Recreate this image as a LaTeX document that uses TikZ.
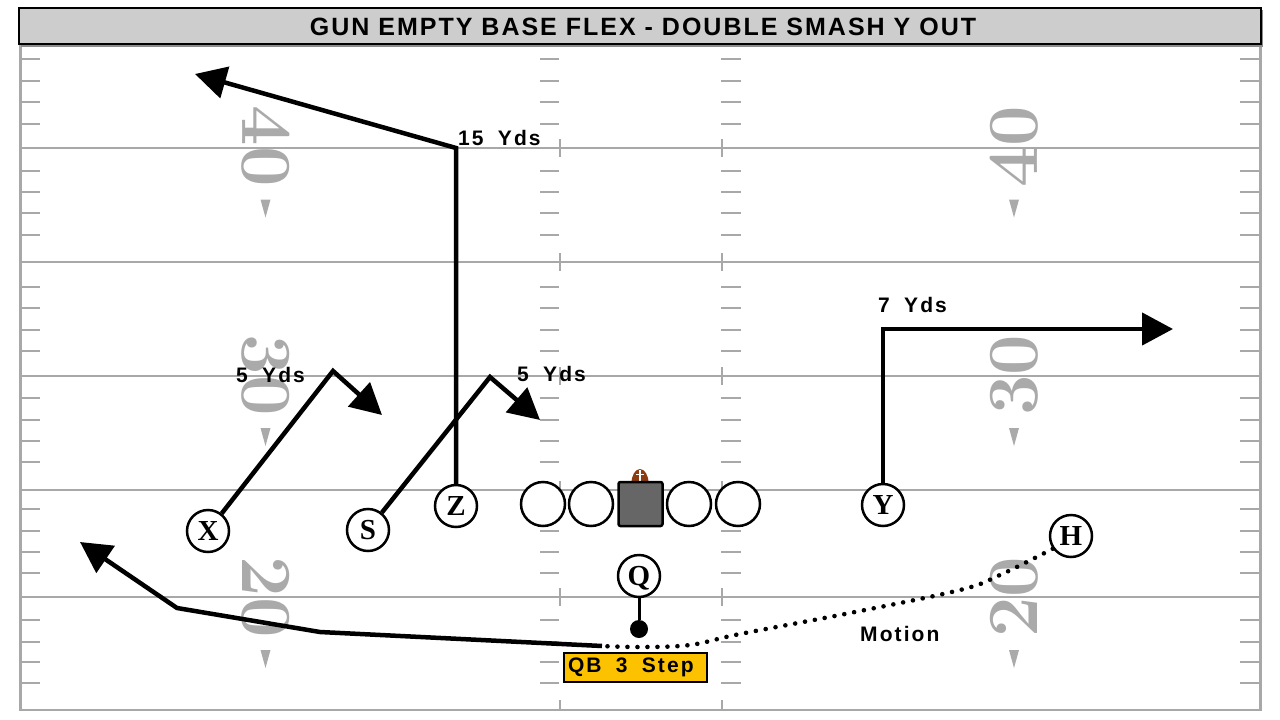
\documentclass[tikz,border=0pt]{standalone}
\usepackage{fontspec}
\usetikzlibrary{arrows.meta}
\newfontfamily\titlefont[LetterSpace=8]{Liberation Sans}
\newfontfamily\labfont[LetterSpace=10,WordSpace=1.8]{Liberation Sans}
\newfontfamily\playerfont{Liberation Serif}
\definecolor{fieldgray}{HTML}{A8A8A8}
\definecolor{numgray}{HTML}{AAAAAA}
\definecolor{titlegray}{HTML}{CDCDCD}
\definecolor{centergray}{HTML}{666666}
\definecolor{qbyellow}{HTML}{FCC200}
\definecolor{ballbrown}{HTML}{8B3A12}
\begin{document}
\begin{tikzpicture}[x=1pt,y=-1pt,
  fieldline/.style={draw=fieldgray, line width=2.2pt},
  tickmark/.style={draw=fieldgray, line width=2.4pt},
  yardnum/.style={text=numgray, inner sep=0pt, font=\bfseries\fontsize{72}{72}\selectfont},
  player/.style={circle, draw, line width=2.5pt, fill=white, minimum size=42pt, inner sep=0pt,
     text height=19pt, text depth=0pt, font=\playerfont\bfseries\fontsize{29}{29}\selectfont},
  lineman/.style={circle, draw, line width=2.5pt, fill=white, minimum size=44pt, inner sep=0pt},
  centerbox/.style={rectangle, draw, line width=2.5pt, fill=centergray, minimum size=44pt, inner sep=0pt, rounded corners=2pt},
  route/.style={line width=4.5pt, -{Triangle[length=31pt,width=32pt]}},
  motionpath/.style={line width=4.6pt, line cap=round, dash pattern=on 0pt off 10pt},
  lbl/.style={anchor=base west, inner sep=0pt, font=\labfont\bfseries\fontsize{21}{21}\selectfont},
  qbbox/.style={rectangle, draw, line width=2pt, fill=qbyellow, minimum height=29pt, minimum width=143pt,
     inner sep=0pt, font=\labfont\bfseries\fontsize{21}{21}\selectfont},
  dotstyle/.style={circle, fill=black, minimum size=18pt, inner sep=0pt}]
\useasboundingbox (0,0) rectangle (1280,720);
\fill[white] (0,0) rectangle (1280,720);
% field
\foreach \yy in {148,262,376,490,597,710} \draw[fieldline] (20,\yy) -- (1260,\yy);
\draw[fieldline, line width=3pt] (20,44) -- (20,711);
\draw[fieldline, line width=3pt] (1260,44) -- (1260,711);
\foreach \yy in {59,81,102,124,171,192,213,235,287,308,330,351,398,420,441,462,509,531,552,573,620,642,662,683} {
  \draw[tickmark] (20,\yy) -- (40,\yy);
  \draw[tickmark] (1240,\yy) -- (1260,\yy);
  \draw[tickmark] (540,\yy) -- (559,\yy);
  \draw[tickmark] (721,\yy) -- (741,\yy);
}
\foreach \yy in {148,262,376,490,597} {
  \draw[tickmark, line width=2pt] (560,\yy-9) -- (560,\yy+9);
  \draw[tickmark, line width=2pt] (722,\yy-9) -- (722,\yy+9);
}
\draw[tickmark, line width=2pt] (560,700) -- (560,710);
\draw[tickmark, line width=2pt] (722,700) -- (722,710);
% yard numbers
\foreach \yy/\num in {146.5/40, 375/30, 597/20} {
  \node[yardnum, rotate=-90] at (265.5,\yy) {\num};
  \node[yardnum, rotate=90] at (1014,\yy) {\num};
  \fill[numgray] (260.5,\yy+53) -- (270.5,\yy+53) -- (265.5,\yy+71) -- cycle;
  \fill[numgray] (1009,\yy+53) -- (1019,\yy+53) -- (1014,\yy+71) -- cycle;
}
% title bar
\fill[black!45] (21,10) rectangle (1263,47);
\draw[fill=titlegray, line width=2.5pt] (19,8) rectangle (1261,44);
\node[font=\titlefont\bfseries\fontsize{25}{25}\selectfont, inner sep=0pt] (title) at (643,27) {GUN EMPTY BASE FLEX - DOUBLE SMASH Y OUT};
% football and line
\fill[ballbrown] (640,483) ellipse [x radius=8.5, y radius=14];
\draw[white, line width=1.2pt] (640,470) -- (640,482);
\draw[white, line width=1pt] (636,474) -- (644,474);
\node[lineman] (LT) at (543,504) {};
\node[lineman] (LG) at (591,504) {};
\node[centerbox] (C) at (640.5,504) {};
\node[lineman] (RG) at (689,504) {};
\node[lineman] (RT) at (738,504) {};
% players
\node[player] (X) at (208,531) {X};
\node[player] (S) at (368,530) {S};
\node[player] (Z) at (456,506) {Z};
\node[player] (Y) at (883,505) {Y};
\node[player] (H) at (1071,536) {H};
\node[player] (Q) at (639,576) {Q};
\node[dotstyle] (qd) at (639,629) {};
\draw[line width=3pt] (Q) -- (qd);
% route coordinates
\coordinate (xc) at (333,371);
\coordinate (xt) at (382,415);
\coordinate (sc) at (490,377);
\coordinate (st) at (540,420);
\coordinate (zc) at (456,148);
\coordinate (zt) at (195,74);
\coordinate (yc) at (883,329);
\coordinate (yt) at (1173,329);
\coordinate (qs) at (602,646);
\coordinate (r1) at (320,632);
\coordinate (r2) at (177,608);
\coordinate (rt) at (80,542);
% routes
\draw[route] (X) -- (xc) -- (xt);
\draw[route] (S) -- (sc) -- (st);
\draw[route] (Z) -- (zc) -- (zt);
\draw[route] (Y) -- (yc) -- (yt);
\draw[motionpath] plot[smooth, tension=0.6] coordinates {(H.215) (1000,575) (960,590) (850,613) (740,634) (690,645) (640,647) (602,646)};
\draw[route] (qs) -- (r1) -- (r2) -- (rt);
% labels
\node[lbl] (l15) at (458,145) {15 Yds};
\node[lbl] (l5a) at (236,382) {5 Yds};
\node[lbl] (l5b) at (517,381) {5 Yds};
\node[lbl] (l7) at (878,312) {7 Yds};
\node[lbl] (lm) at (860,641) {Motion};
\node[qbbox] (qb) at (635.5,667.5) {\makebox[135pt][l]{QB 3 Step}};
\end{tikzpicture}
\end{document}
